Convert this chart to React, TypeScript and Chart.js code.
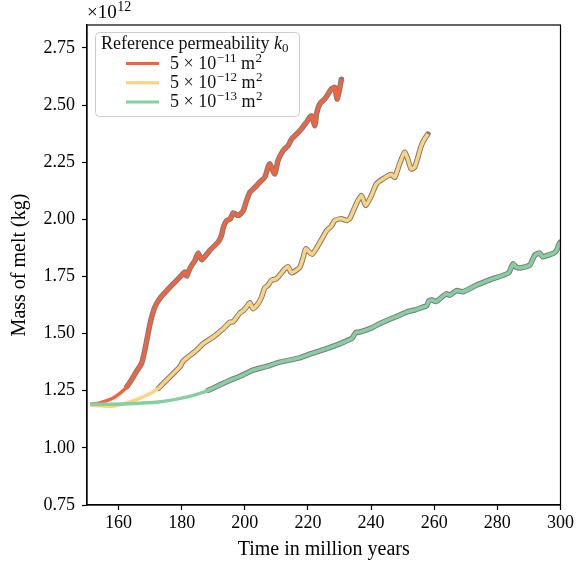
import React, { useEffect, useRef } from 'react';
import { Chart, registerables } from 'chart.js';

Chart.register(...registerables);

const SERIF = '"Liberation Serif", "DejaVu Serif", serif';

// ---- data (values in units of 1e12 kg, time in Myr) ----
const redT = [151, 154, 158, 160.5, 162.6, 164, 165.7, 167.3, 168.5, 170, 171.5, 173.1, 176.3, 179.4, 181, 181.6, 182.6, 184.2, 185.2, 186.3, 188.9, 191.5, 192.6, 193.2, 194.2, 195.3, 196.4, 197.9, 199.5, 200.5, 201.6, 203.2, 204.7, 206.3, 207.4, 207.9, 209.5, 210.5, 212.1, 213.7, 214.8, 216.4, 217.9, 219.5, 221.1, 222.2, 222.7, 223.7, 225.3, 226.4, 227.4, 228.5, 229.2, 229.8, 230.6];
const redV = [1.19, 1.197, 1.216, 1.239, 1.267, 1.296, 1.335, 1.37, 1.44, 1.545, 1.616, 1.654, 1.703, 1.747, 1.769, 1.752, 1.785, 1.82, 1.852, 1.823, 1.864, 1.9, 1.929, 1.965, 1.994, 2.0, 2.028, 2.016, 2.038, 2.08, 2.118, 2.14, 2.162, 2.184, 2.23, 2.242, 2.198, 2.257, 2.3, 2.322, 2.351, 2.373, 2.395, 2.424, 2.453, 2.409, 2.46, 2.504, 2.526, 2.548, 2.57, 2.577, 2.526, 2.555, 2.613];

const yellowT = [151, 155, 158.3, 163.6, 168.9, 172.6, 174.1, 179.4, 180.5, 184.7, 186.8, 190, 193.1, 194.2, 195.3, 196.3, 198.4, 199.5, 200.5, 201.6, 202.6, 204.2, 205.3, 206.3, 207.4, 208.4, 210, 211.6, 212.7, 213.7, 214.8, 217.4, 218.5, 219.3, 221.3, 224.3, 225.9, 227.4, 228.5, 230.6, 232.2, 233.2, 235.3, 236.9, 238.3, 240.1, 241.7, 243.8, 245.4, 246.4, 247.5, 249, 250.6, 251.6, 252.7, 253.8, 254.8, 255.9, 256.9, 258];
const yellowV = [1.187, 1.183, 1.182, 1.201, 1.23, 1.26, 1.281, 1.354, 1.38, 1.427, 1.456, 1.485, 1.52, 1.536, 1.55, 1.552, 1.59, 1.6, 1.616, 1.635, 1.609, 1.631, 1.66, 1.7, 1.712, 1.733, 1.74, 1.765, 1.784, 1.792, 1.766, 1.79, 1.834, 1.871, 1.847, 1.912, 1.95, 1.97, 1.995, 2.002, 1.995, 2.002, 2.067, 2.104, 2.06, 2.104, 2.155, 2.177, 2.191, 2.196, 2.184, 2.242, 2.293, 2.264, 2.22, 2.228, 2.27, 2.322, 2.351, 2.373];

const greenT = [151, 158, 163.6, 169, 174.1, 178, 181.5, 185, 188.4, 191, 195.3, 198, 202.6, 206.9, 211.1, 217.4, 221, 225.9, 230, 234, 234.6, 235.3, 236, 240, 242.7, 245.9, 249, 251.2, 254, 256.4, 257.5, 258.3, 259.3, 260.6, 262, 263.8, 265, 267, 269.1, 273.3, 278, 283.5, 284.4, 285, 286, 287.6, 290.3, 291.2, 292, 293.4, 294.4, 296, 297.9, 298.8, 299.5, 300];
const greenV = [1.191, 1.191, 1.193, 1.197, 1.203, 1.212, 1.222, 1.235, 1.252, 1.268, 1.296, 1.31, 1.34, 1.356, 1.375, 1.394, 1.412, 1.434, 1.455, 1.48, 1.494, 1.506, 1.505, 1.524, 1.543, 1.563, 1.58, 1.594, 1.604, 1.616, 1.62, 1.643, 1.647, 1.64, 1.655, 1.674, 1.668, 1.688, 1.683, 1.711, 1.737, 1.765, 1.79, 1.805, 1.79, 1.788, 1.8, 1.826, 1.845, 1.852, 1.836, 1.843, 1.852, 1.865, 1.89, 1.9];

// time from which the darker outline is drawn
const outlineStart = [162.5, 172.5, 188.4];

const seriesColors = ['#f0653f', '#fdd380', '#86cfa0'];
const seriesExponents = ['\u221211', '\u221212', '\u221213'];
const legendTitle = 'Reference permeability ';

const xTicks = [160, 180, 200, 220, 240, 260, 280, 300];
const yTicks = [0.75, 1.0, 1.25, 1.5, 1.75, 2.0, 2.25, 2.5, 2.75];

const xLabel = 'Time in million years';
const yLabel = 'Mass of melt (kg)';

function pts(t: number[], v: number[], from = -Infinity) {
  const out: { x: number; y: number }[] = [];
  for (let i = 0; i < t.length; i++) if (t[i] >= from) out.push({ x: t[i], y: v[i] });
  return out;
}

const overlayPlugin = {
  id: 'overlay',
  afterDraw(chart: any) {
    const { ctx, chartArea: a } = chart;
    ctx.save();
    // full frame
    ctx.strokeStyle = '#000';
    ctx.lineWidth = 1.2;
    ctx.strokeRect(a.left, a.top, a.right - a.left, a.bottom - a.top);

    // offset text x10^12
    ctx.fillStyle = '#000';
    ctx.textBaseline = 'alphabetic';
    ctx.textAlign = 'left';
    ctx.font = `19px ${SERIF}`;
    let ox = 87;
    ctx.fillText('\u00d710', ox, 18);
    ox += ctx.measureText('\u00d710').width;
    ctx.font = `14px ${SERIF}`;
    ctx.fillText('12', ox + 0.5, 11);

    // legend box
    const bx = 95.5, by = 32.5, bw = 204, bh = 84;
    ctx.beginPath();
    (ctx as any).roundRect(bx, by, bw, bh, 4);
    ctx.fillStyle = 'rgba(255,255,255,0.85)';
    ctx.fill();
    ctx.strokeStyle = '#cccccc';
    ctx.lineWidth = 1;
    ctx.stroke();

    ctx.fillStyle = '#111';
    ctx.font = `18px ${SERIF}`;
    let x = 101;
    const ty = 48.5;
    ctx.fillText(legendTitle, x, ty);
    x += ctx.measureText(legendTitle).width;
    ctx.font = `italic 18px ${SERIF}`;
    ctx.fillText('k', x, ty);
    x += ctx.measureText('k').width;
    ctx.font = `13px ${SERIF}`;
    ctx.fillText('0', x, ty + 3);

    for (let i = 0; i < seriesColors.length; i++) {
      const ly = 63.5 + i * 19.2;
      ctx.strokeStyle = seriesColors[i];
      ctx.lineWidth = 3;
      ctx.beginPath();
      ctx.moveTo(126, ly);
      ctx.lineTo(159, ly);
      ctx.stroke();
      ctx.fillStyle = '#111';
      let tx = 170;
      const base = ly + 5.5;
      ctx.font = `18px ${SERIF}`;
      ctx.fillText('5 \u00d7 10', tx, base);
      tx += ctx.measureText('5 \u00d7 10').width + 0.5;
      ctx.font = `13px ${SERIF}`;
      ctx.fillText(seriesExponents[i], tx, base - 7);
      tx += ctx.measureText(seriesExponents[i]).width;
      ctx.font = `18px ${SERIF}`;
      ctx.fillText(' m', tx, base);
      tx += ctx.measureText(' m').width + 0.5;
      ctx.font = `13px ${SERIF}`;
      ctx.fillText('2', tx, base - 7);
    }
    ctx.restore();
  },
};

export default function App() {
  const ref = useRef<HTMLCanvasElement | null>(null);
  useEffect(() => {
    if (!ref.current) return;
    const allT = [redT, yellowT, greenT];
    const allV = [redV, yellowV, greenV];
    const datasets: any[] = [];
    for (let i = 0; i < 3; i++) {
      datasets.push({
        data: pts(allT[i], allV[i]),
        borderColor: seriesColors[i],
        borderWidth: 3.5,
        pointRadius: 0,
        tension: 0.2,
        borderJoinStyle: 'round',
        borderCapStyle: 'butt',
        fill: false,
        order: 3 - i,
      });
      datasets.push({
        data: pts(allT[i], allV[i], outlineStart[i]),
        borderColor: '#7c7c7c',
        borderWidth: 5.5,
        pointRadius: 0,
        tension: 0.2,
        borderJoinStyle: 'round',
        borderCapStyle: 'round',
        fill: false,
        order: 10,
      });
    }
    const tickFont = { family: SERIF, size: 18 };
    const titleFont = { family: SERIF, size: 20 };
    const chart = new Chart(ref.current, {
      type: 'line',
      data: { datasets },
      plugins: [overlayPlugin],
      options: {
        animation: false,
        responsive: false,
        events: [],
        layout: { padding: { top: 25, right: 15, left: 0, bottom: 0 } },
        plugins: { legend: { display: false }, tooltip: { enabled: false } },
        scales: {
          x: {
            type: 'linear',
            min: 150,
            max: 300,
            afterBuildTicks: (s: any) => {
              s.ticks = xTicks.map((v) => ({ value: v }));
            },
            afterFit: (s: any) => {
              s.height = 61;
            },
            grid: { display: true, drawOnChartArea: false, drawTicks: true, tickLength: 5, tickColor: '#000', tickWidth: 1.2 },
            border: { display: true, color: '#000', width: 1.2 },
            ticks: { color: '#000', font: tickFont, padding: 2, maxRotation: 0, autoSkip: false, callback: (v: any) => String(v) },
            title: { display: true, text: xLabel, color: '#000', font: titleFont, padding: { top: 0, bottom: 4 } },
          },
          y: {
            type: 'linear',
            min: 0.75,
            max: 2.85,
            afterBuildTicks: (s: any) => {
              s.ticks = yTicks.map((v) => ({ value: v }));
            },
            afterFit: (s: any) => {
              s.width = 87;
            },
            grid: { display: true, drawOnChartArea: false, drawTicks: true, tickLength: 5, tickColor: '#000', tickWidth: 1.2 },
            border: { display: true, color: '#000', width: 1.2 },
            ticks: { color: '#000', font: tickFont, padding: 7, autoSkip: false, callback: (v: any) => Number(v).toFixed(2) },
            title: { display: true, text: yLabel, color: '#000', font: titleFont, padding: { top: 8, bottom: 0 } },
          },
        },
      } as any,
    });
    return () => chart.destroy();
  }, []);
  return (
    <div style={{ position: 'absolute', left: 0, top: 0, width: 576, height: 566, background: '#fff' }}>
      <canvas ref={ref} width={576} height={566} style={{ display: 'block' }} />
    </div>
  );
}
